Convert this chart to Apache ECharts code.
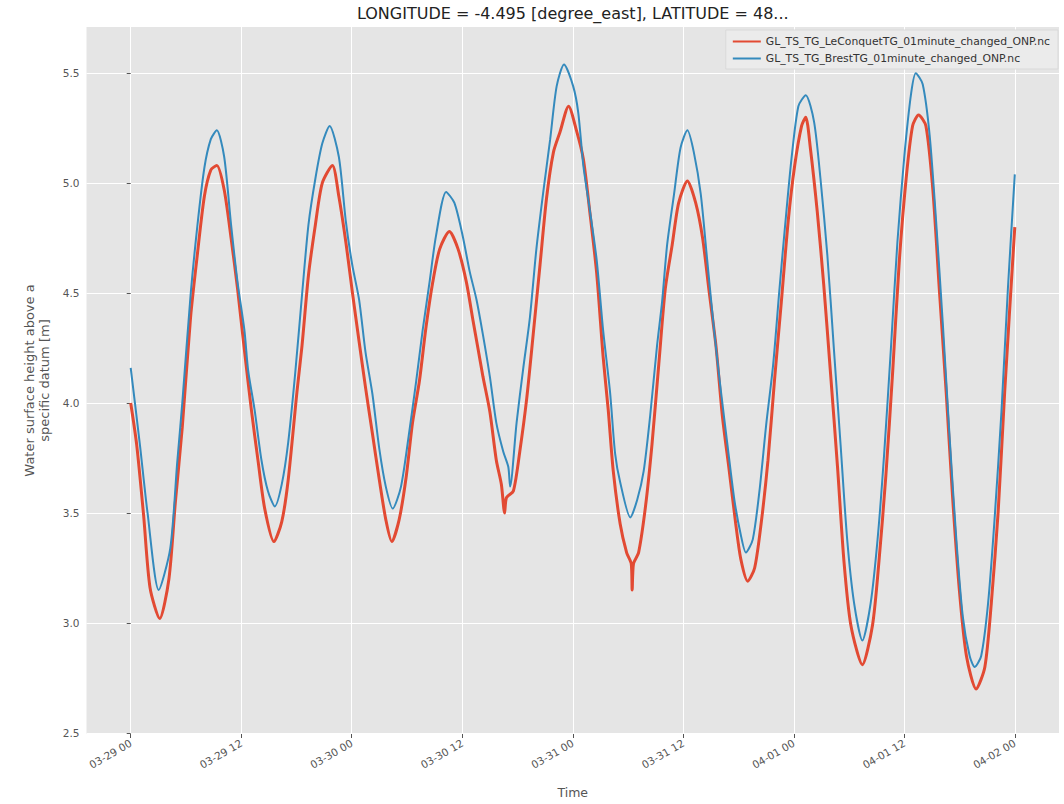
<!DOCTYPE html>
<html>
<head>
<meta charset="utf-8">
<script src="https://cdn.jsdelivr.net/npm/echarts@6/dist/echarts.min.js"></script>
<style>
html,body{margin:0;padding:0;background:#fff;}
#chart{width:1064px;height:804px;}
</style>
</head>
<body>
<div id="chart"></div>
<script>
// hours since 03-29 00:00
const xTickHours = [0, 12, 24, 36, 48, 60, 72, 84, 96];
const xTickLabels = ['03-29 00','03-29 12','03-30 00','03-30 12','03-31 00','03-31 12','04-01 00','04-01 12','04-02 00'];
const yTicks = [2.5, 3.0, 3.5, 4.0, 4.5, 5.0, 5.5];

const seriesNames = ['GL_TS_TG_LeConquetTG_01minute_changed_ONP.nc', 'GL_TS_TG_BrestTG_01minute_changed_ONP.nc'];

const leConquetHours = [0,0.65,1.4,2.1,3.15,4.15,4.85,5.6,6.5,7.25,8.0,8.7,9.35,10.15,10.9,11.6,12.35,13.1,13.85,14.55,15.55,16.4,17.1,18.05,18.6,19.3,20.05,20.8,21.9,22.6,23.4,24.05,24.8,25.5,26.25,27.0,27.7,28.35,29.15,29.9,30.6,31.35,32.05,32.8,33.55,34.6,35.55,36.45,37.15,37.7,38.25,39.0,39.7,40.25,40.6,40.8,41.55,42.25,43.0,43.7,44.45,45.15,45.9,46.6,47.55,48.4,49.15,49.85,50.6,51.3,51.85,52.4,53.15,53.85,54.35,54.45,54.6,55.15,55.9,56.6,57.35,58.05,58.8,59.5,60.45,61.35,62.1,62.8,63.55,64.25,65.0,65.7,66.25,67.0,67.75,68.45,69.2,69.9,70.65,71.4,72.1,72.85,73.3,73.8,74.55,75.25,76.0,76.75,77.45,78.2,79.45,80.55,81.25,82.0,82.75,83.45,84.2,84.9,85.55,86.35,87.1,87.8,88.55,89.25,90.0,90.75,91.8,92.75,93.45,94.2,94.9,96.0];
const leConquetValues = [4.00,3.81,3.49,3.16,3.02,3.20,3.55,3.89,4.39,4.68,4.94,5.06,5.08,4.97,4.75,4.52,4.24,3.97,3.73,3.52,3.37,3.46,3.65,4.05,4.26,4.58,4.81,5.00,5.08,4.94,4.72,4.51,4.28,4.07,3.86,3.65,3.47,3.37,3.47,3.66,3.91,4.10,4.34,4.55,4.70,4.78,4.70,4.55,4.38,4.25,4.12,3.96,3.74,3.63,3.50,3.57,3.60,3.78,4.02,4.31,4.63,4.93,5.14,5.23,5.35,5.24,5.11,4.87,4.59,4.21,3.97,3.69,3.45,3.32,3.27,3.15,3.27,3.32,3.53,3.81,4.18,4.52,4.72,4.91,5.01,4.91,4.75,4.51,4.26,3.94,3.69,3.45,3.29,3.19,3.25,3.45,3.74,4.10,4.46,4.83,5.08,5.26,5.30,5.16,4.87,4.54,4.13,3.71,3.28,2.99,2.81,2.99,3.28,3.67,4.15,4.64,5.02,5.26,5.31,5.26,4.97,4.52,4.05,3.57,3.14,2.85,2.70,2.80,3.09,3.51,4.05,4.80];

const brestHours = [0,1.0,1.83,3.04,4.3,5.05,5.6,6.5,7.25,8.0,8.7,9.35,10.15,10.9,11.6,12.35,12.75,13.45,14.2,14.9,15.65,16.4,17.1,17.85,18.6,19.3,20.05,20.8,21.6,22.6,23.35,24.05,24.8,25.5,26.25,27.0,27.7,28.45,29.35,30.25,31.0,31.7,32.45,33.15,34.25,35.15,36.05,36.8,37.55,38.25,39.0,39.7,40.45,41.0,41.2,41.9,42.6,43.35,44.05,44.8,45.55,46.25,47.05,48.05,48.6,49.15,49.85,50.6,51.3,52.05,52.6,53.15,54.25,55.0,55.7,56.4,57.15,57.7,58.25,59.0,59.7,60.45,61.15,61.9,62.6,63.35,64.1,64.8,65.55,66.25,66.8,67.55,68.3,69.0,69.75,70.45,71.0,71.75,72.5,73.3,74.2,74.9,75.65,76.35,77.1,77.8,78.55,79.45,80.35,81.1,81.8,82.55,83.25,84.0,84.75,85.25,86.0,86.75,87.45,88.2,88.9,89.65,90.35,91.1,91.65,92.35,93.1,93.8,94.55,95.25,96.0];
const brestValues = [4.16,3.81,3.50,3.15,3.34,3.73,4.00,4.49,4.81,5.07,5.20,5.24,5.12,4.81,4.55,4.33,4.15,3.97,3.74,3.60,3.53,3.63,3.82,4.13,4.49,4.81,5.02,5.18,5.26,5.12,4.83,4.63,4.47,4.23,4.04,3.79,3.62,3.52,3.62,3.87,4.10,4.33,4.55,4.76,4.96,4.91,4.76,4.60,4.47,4.31,4.12,3.91,3.78,3.71,3.62,3.91,4.15,4.39,4.70,4.96,5.20,5.44,5.54,5.44,5.32,5.08,4.88,4.65,4.33,4.05,3.77,3.64,3.48,3.56,3.69,3.94,4.26,4.46,4.72,4.95,5.16,5.24,5.14,4.95,4.65,4.33,4.05,3.81,3.56,3.40,3.32,3.38,3.61,3.90,4.17,4.52,4.78,5.11,5.35,5.40,5.28,5.02,4.67,4.25,3.80,3.38,3.09,2.92,3.09,3.38,3.76,4.25,4.73,5.12,5.41,5.50,5.45,5.22,4.83,4.35,3.86,3.38,3.03,2.85,2.80,2.85,3.09,3.47,3.96,4.52,5.04];

const titleText = 'LONGITUDE = -4.495 [degree_east], LATITUDE = 48...';
const font = 'DejaVu Sans';

const chart = echarts.init(document.getElementById('chart'), null, {renderer: 'svg'});
const gridLeft = 86.5, gridRight = 5, gridTop = 27, gridBottom = 67;

const option = {
  animation: false,
  backgroundColor: '#ffffff',
  textStyle: {fontFamily: font},
  graphic: [{
    type: 'text',
    x: (gridLeft + (1064 - gridRight)) / 2,
    y: 13,
    style: {text: titleText, align: 'center', verticalAlign: 'middle', fontSize: 16, fontFamily: font, fill: '#222'}
  }],
  grid: {left: gridLeft, right: gridRight, top: gridTop, bottom: gridBottom, show: true, backgroundColor: '#E5E5E5', borderWidth: 0},
  legend: {
    data: seriesNames,
    orient: 'vertical',
    right: 6, top: 30,
    itemWidth: 28, itemHeight: 2,
    icon: 'rect',
    itemGap: 6,
    padding: [6, 8, 5, 7],
    backgroundColor: '#EBEBEB',
    borderColor: '#D9D9D9', borderWidth: 1,
    textStyle: {fontSize: 10.8, color: '#333', fontFamily: font}
  },
  xAxis: {
    type: 'value',
    min: -4.8, max: 100.8,
    name: 'Time', nameLocation: 'middle', nameGap: 52,
    nameTextStyle: {fontSize: 12.5, color: '#555', fontFamily: font},
    axisLine: {show: false},
    axisTick: {show: true, length: 4, lineStyle: {color: '#555'}, customValues: xTickHours},
    axisLabel: {
      customValues: xTickHours, rotate: 30, fontSize: 10.5, color: '#555', margin: 8, fontFamily: font,
      formatter: v => { const i = xTickHours.indexOf(Math.round(v)); return i >= 0 ? xTickLabels[i] : ''; }
    },
    splitLine: {show: true, lineStyle: {color: '#ffffff', width: 1}}
  },
  yAxis: {
    type: 'value',
    min: 2.495, max: 5.71,
    name: 'Water surface height above a\nspecific datum [m]', nameLocation: 'middle', nameGap: 34, nameRotate: 90,
    nameTextStyle: {fontSize: 13, color: '#555', lineHeight: 15, fontFamily: font},
    axisLine: {show: false},
    axisTick: {show: true, length: 4, lineStyle: {color: '#555'}, customValues: yTicks},
    axisLabel: {customValues: yTicks, fontSize: 10.5, color: '#555', margin: 7, fontFamily: font, formatter: v => v.toFixed(1)},
    splitLine: {show: true, lineStyle: {color: '#ffffff', width: 1}}
  },
  series: [
    {
      name: seriesNames[0], type: 'line', showSymbol: false, smooth: 0.25,
      data: leConquetHours.map((h, i) => [h, leConquetValues[i]]),
      lineStyle: {color: '#E24A33', width: 3}, itemStyle: {color: '#E24A33'}
    },
    {
      name: seriesNames[1], type: 'line', showSymbol: false, smooth: 0.25,
      data: brestHours.map((h, i) => [h, brestValues[i]]),
      lineStyle: {color: '#348ABD', width: 2}, itemStyle: {color: '#348ABD'}
    }
  ]
};
chart.setOption(option);
</script>
</body>
</html>
